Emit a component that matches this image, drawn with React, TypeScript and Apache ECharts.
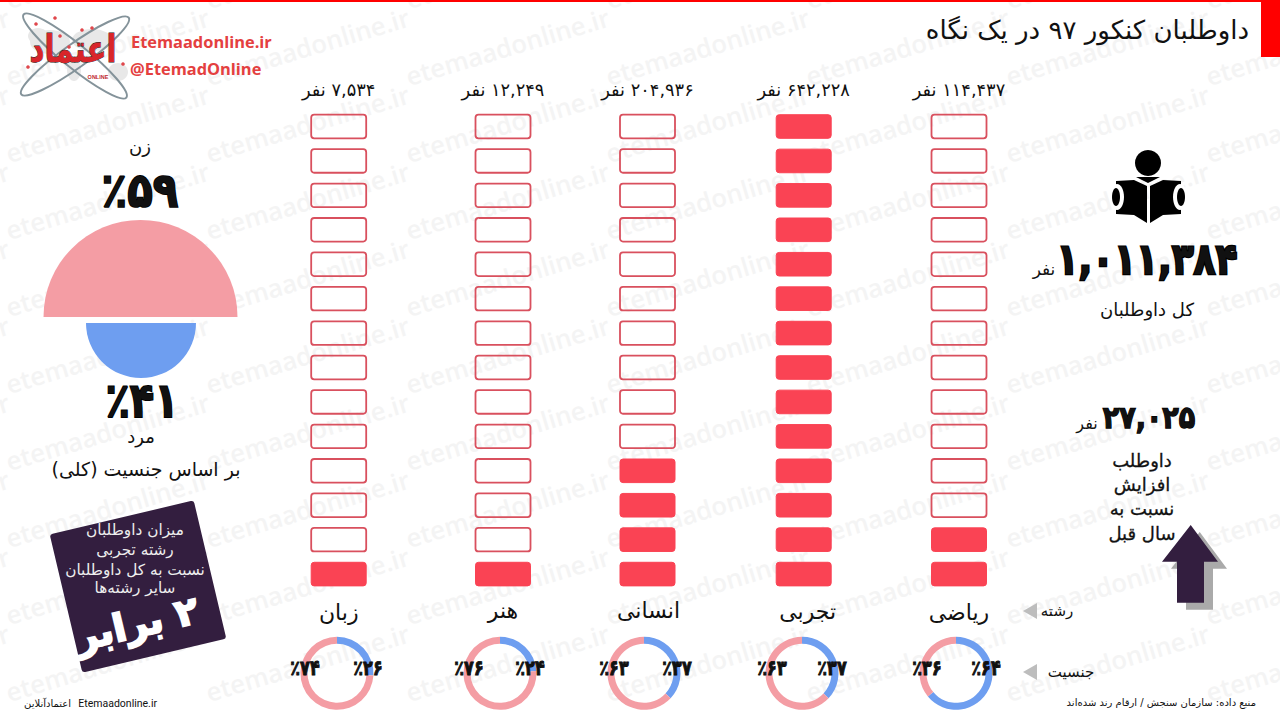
import { useEffect, useRef } from 'react'
import * as echarts from 'echarts'

// fields run left to right as in the picture
const fieldNames = ['زبان', 'هنر', 'انسانی', 'تجربی', 'ریاضی']
const applicants = [7534, 12249, 204936, 642228, 114437]
const filledCells = [1, 1, 4, 14, 2]
const maleShare = [26, 24, 37, 37, 64]
const femaleShare = [74, 76, 63, 63, 36]
const cellCount = 14

const totalApplicants = 1011384
const yearIncrease = 27025
const womenShare = 59
const menShare = 41

const columnX = [338.7, 503, 647.5, 803.7, 959]
const donutX = [337, 500, 644, 802, 956]
const nameY = [612, 610, 610, 611, 612]
const leftLabelX = [305, 469, 614, 772, 927]
const rightLabelX = [368, 530, 677, 832, 986]

const PINK = '#f49da4'
const BLUE = '#6e9ef0'
const RED = '#fa4354'
const OUTLINE = '#d9505e'
const DARK = '#331e3f'
const FA = 'DejaVu Sans'
const RLM = '\u200F'

const fa = (n: number | string) =>
  String(n).replace(/\d/g, (d) => '۰۱۲۳۴۵۶۷۸۹'[Number(d)])
const faGrouped = (n: number) => fa(n.toLocaleString('en-US'))
const pct = (n: number) => '٪' + fa(n)

function label(text: string, x: number, y: number, size: number, extra: any = {}) {
  const { bold, fill, stroke, lineWidth, align, family, ...rest } = extra
  return {
    type: 'text',
    x,
    y,
    z: 20,
    silent: true,
    ...rest,
    style: {
      text,
      fontFamily: family || FA,
      fontSize: size,
      fontWeight: bold ? 'bold' : 'normal',
      fill: fill || '#111',
      stroke: stroke,
      lineWidth: lineWidth || 0,
      textAlign: align || 'center',
      textVerticalAlign: 'middle',
    },
  }
}

function watermark() {
  const items: any[] = []
  for (let col = -1; col < 7; col++) {
    for (let row = 0; row < 10; row++) {
      items.push({
        type: 'text',
        x: 10 + col * 200,
        y: 12 + row * 77,
        rotation: 0.29,
        z: 0,
        silent: true,
        style: {
          text: 'etemaadonline.ir',
          fontFamily: 'Open Sans',
          fontSize: 25.5,
          fontWeight: 600,
          fill: '#f4f4f4',
          textAlign: 'left',
          textVerticalAlign: 'bottom',
        },
      })
    }
  }
  return items
}

function logo() {
  const pins = [[55, 18], [36, 24], [60, 36], [82, 30], [92, 28], [69, 47], [28, 67], [123, 64]]
  const map = [[50, 42, 20, 12], [92, 40, 20, 11], [118, 72, 10, 9], [74, 70, 7, 11], [38, 36, 10, 8]]
  return [
    ...map.map(([x, y, rx, ry]) => ({
      type: 'ellipse', z: 15, silent: true,
      shape: { cx: x, cy: y, rx, ry },
      style: { fill: '#e8e8e8' },
    })),
    {
      type: 'ellipse', x: 75, y: 56, rotation: -0.68, z: 16, silent: true,
      shape: { cx: 0, cy: 0, rx: 66, ry: 12 },
      style: { fill: 'none', stroke: '#84939a', lineWidth: 2 },
    },
    {
      type: 'ellipse', x: 75, y: 56, rotation: 0.62, z: 16, silent: true,
      shape: { cx: 0, cy: 0, rx: 66, ry: 12 },
      style: { fill: 'none', stroke: '#84939a', lineWidth: 2 },
    },
    ...pins.map(([x, y]) => ({
      type: 'circle', z: 17, silent: true,
      shape: { cx: x, cy: y, r: 1.8 },
      style: { fill: '#e0474c' },
    })),
    label('اعتماد', 73, 49, 29, { bold: true, fill: '#d9252a', stroke: '#222', lineWidth: 0.7, scaleY: 1.3 }),
    label('ONLINE', 98, 77, 5.5, { bold: true, fill: '#c0272d', family: 'Liberation Sans' }),
    label('Etemaadonline.ir', 131, 41, 16.4, { bold: true, fill: '#e4403f', align: 'left', family: 'Open Sans' }),
    label('@EtemadOnline', 130, 68, 16.4, { bold: true, fill: '#e4403f', align: 'left', family: 'Open Sans' }),
  ]
}

function bookIcon() {
  return [
    { type: 'circle', z: 15, silent: true, shape: { cx: 1148, cy: 163, r: 13 }, style: { fill: '#000' } },
    { type: 'polygon', z: 15, silent: true, shape: { points: [[1136, 177], [1160, 177], [1148, 183]] }, style: { fill: '#000' } },
    {
      type: 'polygon', z: 15, silent: true,
      shape: { points: [[1116, 181], [1134, 180], [1147, 186], [1147, 223], [1134, 215], [1116, 214]] },
      style: { fill: '#000' },
    },
    {
      type: 'polygon', z: 15, silent: true,
      shape: { points: [[1150, 186], [1163, 180], [1181, 181], [1181, 214], [1163, 215], [1150, 223]] },
      style: { fill: '#000' },
    },
    { type: 'ellipse', z: 16, silent: true, shape: { cx: 1117, cy: 197, rx: 7, ry: 13 }, style: { fill: '#fff' } },
    { type: 'ellipse', z: 16, silent: true, shape: { cx: 1180, cy: 197, rx: 7, ry: 13 }, style: { fill: '#fff' } },
    { type: 'ellipse', z: 17, silent: true, shape: { cx: 1116, cy: 197, rx: 4, ry: 9 }, style: { fill: '#000' } },
    { type: 'ellipse', z: 17, silent: true, shape: { cx: 1181, cy: 197, rx: 4, ry: 9 }, style: { fill: '#000' } },
  ]
}

function arrow(dx: number, dy: number, fill: string, z: number) {
  const pts = [[1190.7, 525], [1218, 561.7], [1204, 561.7], [1204, 602.7], [1177, 602.7], [1177, 561.7], [1162, 561.7]]
  return {
    type: 'polygon', z, silent: true,
    shape: { points: pts.map(([x, y]) => [x + dx, y + dy]) },
    style: { fill },
  }
}

function triangle(y: number) {
  return {
    type: 'polygon', z: 15, silent: true,
    shape: { points: [[1023, y], [1037, y - 8], [1037, y + 8]] },
    style: { fill: '#bdbdbd' },
  }
}

function buildOption(): any {
  const grids = columnX.map((x) => ({ left: x - 30, width: 60, top: 109.3, height: 482 }))

  const cellSeries = fieldNames.map((name, col) => ({
    type: 'custom',
    name,
    xAxisIndex: col,
    yAxisIndex: col,
    encode: { x: 0, y: 1 },
    silent: true,
    data: Array.from({ length: cellCount }, (_, i) => [0, i + 0.5, i < filledCells[col] ? 1 : 0]),
    renderItem: (_p: any, api: any) => {
      const c = api.coord([api.value(0), api.value(1)])
      const on = api.value(2) === 1
      return {
        type: 'rect',
        shape: { x: c[0] - 27.5, y: c[1] - 11.8, width: 55, height: 23.6, r: 3 },
        style: on
          ? { fill: RED, stroke: RED, lineWidth: 1 }
          : { fill: 'none', stroke: OUTLINE, lineWidth: 1.8 },
      }
    },
  }))

  const donutSeries = fieldNames.map((name, col) => ({
    type: 'pie',
    name,
    center: [donutX[col], 673.3],
    radius: [29.5, 36.5],
    startAngle: 90,
    silent: true,
    label: { show: false },
    labelLine: { show: false },
    data: [
      { value: maleShare[col], itemStyle: { color: BLUE } },
      { value: femaleShare[col], itemStyle: { color: PINK } },
    ],
  }))

  // half discs: the second slice of each is left empty
  const genderSeries = [
    {
      type: 'pie',
      center: [140.5, 317],
      radius: [0, 97],
      startAngle: 180,
      silent: true,
      label: { show: false },
      labelLine: { show: false },
      data: [
        { value: womenShare, itemStyle: { color: PINK } },
        { value: womenShare, itemStyle: { color: 'transparent' } },
      ],
    },
    {
      type: 'pie',
      center: [141, 323],
      radius: [0, 55],
      startAngle: 0,
      silent: true,
      label: { show: false },
      labelLine: { show: false },
      data: [
        { value: menShare, itemStyle: { color: BLUE } },
        { value: menShare, itemStyle: { color: 'transparent' } },
      ],
    },
  ]

  const columnTexts = fieldNames.flatMap((name, col) => [
    label(RLM + faGrouped(applicants[col]) + ' نفر', columnX[col], 89.5, 17.8),
    label(name, columnX[col] + (col === 2 ? 1 : col === 3 ? 4 : 0), nameY[col], 22),
    label(pct(femaleShare[col]), leftLabelX[col], 668, 16, { bold: true, stroke: '#000', lineWidth: 0.7, scaleY: 1.3 }),
    label(pct(maleShare[col]), rightLabelX[col], 668, 16, { bold: true, stroke: '#000', lineWidth: 0.7, scaleY: 1.3 }),
  ])

  const elements = [
    ...watermark(),
    { type: 'rect', z: 15, silent: true, shape: { x: 0, y: 0, width: 1280, height: 2 }, style: { fill: '#ff0000' } },
    { type: 'rect', z: 15, silent: true, shape: { x: 1261, y: 0, width: 19, height: 57 }, style: { fill: '#ff0000' } },
    label('داوطلبان کنکور ۹۷ در یک نگاه', 1249, 30, 26, { align: 'right' }),
    ...logo(),
    ...bookIcon(),
    ...columnTexts,

    label('زن', 140, 146, 18),
    label(pct(womenShare), 140, 190, 42, { bold: true, stroke: '#000', lineWidth: 1.5, scaleY: 1.15 }),
    label(pct(menShare), 142, 400, 40, { bold: true, stroke: '#000', lineWidth: 1.5, scaleY: 1.2 }),
    label('مرد', 141, 436, 18),
    label(RLM + 'بر اساس جنسیت (کلی)' + RLM, 146, 469, 19),

    {
      type: 'rect', x: 138, y: 586.5, rotation: 0.232, z: 15, silent: true,
      shape: { x: -74, y: -71, width: 148, height: 142, r: 3 },
      style: { fill: DARK },
    },
    label('میزان داوطلبان', 135, 530, 15.3, { fill: '#eee' }),
    label('رشته تجربی', 135, 550, 15.3, { fill: '#eee' }),
    label('نسبت به کل داوطلبان', 135, 570, 15.3, { fill: '#eee' }),
    label('سایر رشته‌ها', 135, 588, 15.3, { fill: '#eee' }),
    label(RLM + fa(2) + ' برابر', 137, 624, 38, { bold: true, fill: '#fff', stroke: '#fff', lineWidth: 2, rotation: 0.232 }),

    label(faGrouped(totalApplicants), 1147, 259, 36, { bold: true, stroke: '#000', lineWidth: 2, scaleY: 1.2 }),
    label('نفر', 1044, 269, 17),
    label('کل داوطلبان', 1147, 309, 18),

    label(faGrouped(yearIncrease), 1149, 417, 27, { bold: true, stroke: '#000', lineWidth: 1.2, scaleY: 1.15 }),
    label('نفر', 1087, 423, 16),
    arrow(9, 7, '#aaaaaa', 14),
    arrow(0, 0, DARK, 15),
    label('داوطلب', 1142, 460, 18, { stroke: '#111', lineWidth: 0.3 }),
    label('افزایش', 1142, 484, 18, { stroke: '#111', lineWidth: 0.3 }),
    label('نسبت به', 1142, 508, 18, { stroke: '#111', lineWidth: 0.3 }),
    label('سال قبل', 1142, 533, 18, { stroke: '#111', lineWidth: 0.3 }),

    triangle(611),
    label('رشته', 1057, 611, 15),
    triangle(672),
    label('جنسیت', 1071, 672, 15),

    label('منبع داده: سازمان سنجش / ارقام رند شده‌اند', 1256, 702, 10, { align: 'right' }),
    label('Etemaadonline.ir', 157, 703, 10.5, { align: 'right', family: 'Roboto' }),
    label('اعتمادآنلاین', 71, 703, 10, { align: 'right' }),
  ]

  return {
    animation: false,
    backgroundColor: '#fff',
    grid: grids,
    xAxis: fieldNames.map((name, i) => ({ type: 'category', gridIndex: i, data: [name], show: false })),
    yAxis: fieldNames.map((_, i) => ({ type: 'value', gridIndex: i, min: 0, max: cellCount, interval: 1, show: false })),
    series: [...cellSeries, ...donutSeries, ...genderSeries],
    graphic: { elements },
  }
}

export default function App() {
  const chartRef = useRef<HTMLDivElement>(null)

  useEffect(() => {
    document.body.style.margin = '0'
    if (!chartRef.current) return
    const chart = echarts.init(chartRef.current, undefined, { renderer: 'svg' })
    chart.setOption(buildOption())
    return () => {
      chart.dispose()
    }
  }, [])

  return <div ref={chartRef} style={{ width: 1280, height: 720 }} />
}
